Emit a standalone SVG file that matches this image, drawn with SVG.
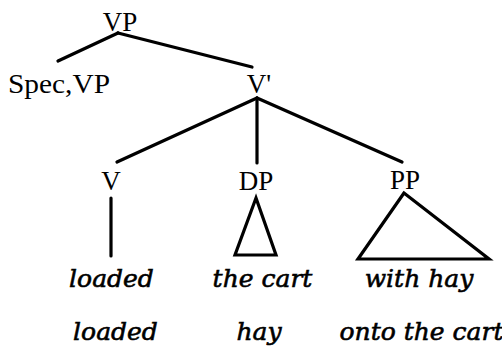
<svg xmlns="http://www.w3.org/2000/svg" width="502" height="348" viewBox="0 0 502 348">
<style>
.lab{font-family:"Liberation Serif","Times New Roman",serif;font-size:27px;fill:#000;text-anchor:middle}
.w{font-family:"DejaVu Serif",serif;font-style:italic;font-size:25px;fill:#000;stroke:#000;stroke-width:0.6;text-anchor:middle}
.e{stroke:#000;stroke-width:3.2;fill:none;stroke-linecap:round;stroke-linejoin:miter}
</style>
<rect width="502" height="348" fill="#fff"/>
<g id="connectors">
<line class="e" x1="118" y1="33" x2="58" y2="61"/>
<line class="e" x1="118" y1="33" x2="252" y2="67"/>
<line class="e" x1="257" y1="98" x2="117" y2="162"/>
<line class="e" x1="257" y1="98" x2="257" y2="163"/>
<line class="e" x1="257" y1="98" x2="402" y2="162"/>
<line class="e" x1="111" y1="198" x2="111" y2="256"/>
</g>
<g id="VP"><text class="lab" x="120" y="31">VP</text></g>
<g id="SpecVP"><text class="lab" x="59" y="93" textLength="102" lengthAdjust="spacingAndGlyphs">Spec,VP</text></g>
<g id="Vbar"><text class="lab" x="259" y="93">V'</text></g>
<g id="V"><text class="lab" x="111" y="190">V</text></g>
<g id="DP"><text class="lab" x="256" y="190">DP</text>
<polygon class="e" points="256,198 235,255 276,255"/></g>
<g id="PP"><text class="lab" x="405" y="189">PP</text>
<polygon class="e" points="404,193 358,259 489,259"/></g>
<g id="row1">
<text class="w" x="111.5" y="287">loaded</text>
<text class="w" x="262.5" y="287">the cart</text>
<text class="w" x="419" y="287">with hay</text>
</g>
<g id="row2">
<text class="w" x="115.5" y="340">loaded</text>
<text class="w" x="259" y="340">hay</text>
<text class="w" x="421.5" y="340">onto the cart</text>
</g>
</svg>
